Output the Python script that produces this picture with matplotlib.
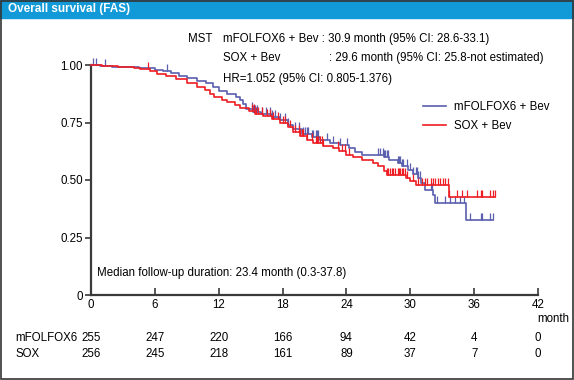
import numpy as np
import matplotlib
matplotlib.use("Agg")
import matplotlib.pyplot as plt
from matplotlib.patches import Rectangle
from matplotlib.lines import Line2D
import matplotlib.transforms as mtransforms

plt.rcParams['font.family'] = ['Liberation Sans', 'DejaVu Sans']

# Kaplan-Meier steps (time in months, survival after the step)
folfox_t = [0, 0.8, 2.0, 4.5, 6.0, 6.8, 7.5, 8.3, 9.0, 10.0, 10.8, 11.5, 12.0, 12.8,
            13.6, 14.0, 14.3, 14.6, 15.2, 16.0, 17.0, 17.8, 18.5, 19.0, 19.8, 20.8,
            21.5, 22.5, 23.4, 24.2, 24.8, 25.5, 27.5, 28.0, 28.8, 29.2, 29.8, 30.3,
            30.7, 31.0, 31.4, 32.1, 32.3, 35.2, 37.8]
folfox_s = [1.0, 0.996, 0.992, 0.988, 0.98, 0.972, 0.964, 0.952, 0.944, 0.932, 0.92,
            0.905, 0.885, 0.872, 0.86, 0.848, 0.83, 0.808, 0.796, 0.787, 0.772, 0.76,
            0.74, 0.72, 0.698, 0.685, 0.674, 0.663, 0.652, 0.638, 0.622, 0.609, 0.6,
            0.587, 0.575, 0.56, 0.545, 0.528, 0.51, 0.487, 0.457, 0.435, 0.398, 0.326,
            0.326]
folfox_cens = [0.2, 0.5, 1.3, 7.1, 15.1, 15.2, 15.4, 15.6, 16.1, 16.4, 16.8, 17.0,
               17.3, 17.8, 18.2, 18.5, 19.2, 19.5, 19.9, 20.3, 20.9, 21.2, 20.1, 20.4,
               20.8, 21.1, 21.3, 22.2, 22.7, 23.4, 24.1, 27.0, 27.2, 27.4, 27.5, 27.6,
               27.8, 27.9, 28.8, 28.9, 29.0, 29.2, 29.3, 29.7, 30.0, 30.5, 30.7, 30.3,
               30.6, 30.9, 31.9, 32.0, 32.5, 33.3, 33.7, 34.2, 34.7, 35.0, 35.6, 36.6,
               36.7, 37.5, 37.8]

sox_t = [0, 1.0, 2.5, 4.0, 4.6, 5.5, 6.2, 7.0, 8.0, 9.0, 10.0, 10.7, 11.2, 11.6, 12.3,
         12.8, 13.5, 14.0, 14.8, 15.4, 16.2, 17.0, 17.8, 18.5, 19.0, 19.6, 20.3, 20.9,
         21.8, 22.7, 23.3, 24.0, 24.6, 25.5, 26.5, 27.0, 27.5, 27.8, 29.6, 30.0, 30.5,
         33.6, 38.0]
sox_s = [1.0, 0.997, 0.993, 0.988, 0.984, 0.972, 0.962, 0.952, 0.938, 0.922, 0.905,
         0.89, 0.875, 0.862, 0.85, 0.837, 0.825, 0.813, 0.8, 0.789, 0.777, 0.764, 0.748,
         0.73, 0.71, 0.69, 0.675, 0.661, 0.65, 0.639, 0.625, 0.61, 0.598, 0.587, 0.575,
         0.56, 0.54, 0.522, 0.51, 0.495, 0.478, 0.426, 0.426]
sox_cens = [5.4, 15.1, 15.3, 15.5, 15.7, 16.1, 16.5, 16.8, 17.1, 17.6, 18.0, 18.2, 18.7,
            19.2, 19.5, 19.6, 19.8, 19.9, 20.3, 20.8, 21.1, 21.2, 21.3, 21.5, 21.7, 21.8,
            23.2, 23.6, 23.9, 24.2, 27.8, 27.9, 28.1, 28.3, 28.4, 28.6, 28.8, 28.9, 29.0,
            29.2, 29.3, 29.5, 29.7, 30.3, 30.7, 31.1, 31.4, 31.6, 31.9, 32.1, 32.3, 32.6,
            32.8, 33.1, 33.3, 33.5, 33.6, 34.4, 34.9, 35.3, 36.3, 36.6, 36.7, 37.5, 37.8,
            38.0]

risk_times = [0, 6, 12, 18, 24, 30, 36, 42]
risk_folfox = [255, 247, 220, 166, 94, 42, 4, 0]
risk_sox = [256, 245, 218, 161, 89, 37, 7, 0]

BLUE = '#5a5fae'
RED = '#ee1d23'
W, H = 574, 380


def fx(x):
    return x / W


def fy(y):
    return 1 - y / H


def surv_at(times, vals, c):
    idx = np.searchsorted(times, c, side='right') - 1
    return np.asarray(vals)[idx]


fig = plt.figure(figsize=(5.74, 3.8), dpi=100)
ax = fig.add_axes([fx(91), fy(295), fx(538) - fx(91), fy(65) - fy(295)])

for t, s, cens, col in [(folfox_t, folfox_s, folfox_cens, BLUE),
                        (sox_t, sox_s, sox_cens, RED)]:
    ax.step(t, s, where='post', color=col, lw=1.2, clip_on=False, zorder=3)
    ax.plot(cens, surv_at(t, s, cens), ls='none', marker=2, ms=5, mew=0.9,
            color=col, clip_on=False, zorder=3)

ax.set_xlim(0, 42)
ax.set_ylim(0, 1.0)
ax.spines[['right', 'top']].set_visible(False)
for sp in ['left', 'bottom']:
    ax.spines[sp].set_linewidth(1.6)
    ax.spines[sp].set_color('#3a3a3a')

fs = 8.3
ax.set_xticks(risk_times)
ax.set_xticklabels([str(v) for v in risk_times])
ax.set_yticks([0, 0.25, 0.5, 0.75, 1.0])
ax.set_yticklabels(['0', '0.25', '0.50', '0.75', '1.00'])
ax.tick_params(axis='x', direction='in', length=5, width=1.2, color='#3a3a3a',
               labelsize=fs, pad=3)
ax.tick_params(axis='y', direction='out', length=4, width=1.2, color='#3a3a3a',
               labelsize=fs, pad=2)

fig.text(fx(537), fy(319), 'month', fontsize=fs, va='center', ha='left')

# MST annotation
fig.text(fx(188), fy(39), 'MST', fontsize=fs, va='center')
fig.text(fx(223), fy(39), 'mFOLFOX6 + Bev : 30.9 month (95% CI: 28.6-33.1)',
         fontsize=fs, va='center')
fig.text(fx(223), fy(58), 'SOX + Bev', fontsize=fs, va='center')
fig.text(fx(329), fy(58), ': 29.6 month (95% CI: 25.8-not estimated)', fontsize=fs, va='center')
fig.text(fx(223), fy(79), 'HR=1.052 (95% CI: 0.805-1.376)', fontsize=fs, va='center')
fig.text(fx(97), fy(273), 'Median follow-up duration: 23.4 month (0.3-37.8)',
         fontsize=fs, va='center')

handles = [Line2D([], [], color=BLUE, lw=1.2), Line2D([], [], color=RED, lw=1.2)]
fig.legend(handles, ['mFOLFOX6 + Bev', 'SOX + Bev'], loc='upper left',
           bbox_to_anchor=(fx(413), fy(91)), frameon=False, fontsize=fs,
           handlelength=2.0, handletextpad=0.7, labelspacing=0.55)

# numbers at risk
tr = mtransforms.blended_transform_factory(ax.transData, fig.transFigure)
fig.text(fx(15), fy(338), 'mFOLFOX6', fontsize=fs, va='center')
fig.text(fx(15), fy(354), 'SOX', fontsize=fs, va='center')
for x, a, b in zip(risk_times, risk_folfox, risk_sox):
    ax.text(x, fy(338), str(a), transform=tr, fontsize=fs, ha='center', va='center')
    ax.text(x, fy(354), str(b), transform=tr, fontsize=fs, ha='center', va='center')

# header bar and frame
fig.patches.append(Rectangle((0, fy(18)), 1, 1 - fy(18), transform=fig.transFigure,
                             color='#119ad7', zorder=0))
fig.text(fx(8), fy(9), 'Overall survival (FAS)', color='white', fontsize=8.5,
         fontweight='bold', va='center')
fig.patches.append(Rectangle((0.001, 0.002), 0.997, 0.996, transform=fig.transFigure,
                             fill=False, edgecolor='#333333', lw=1.2, zorder=5))

fig.savefig('out.png', dpi=100)
